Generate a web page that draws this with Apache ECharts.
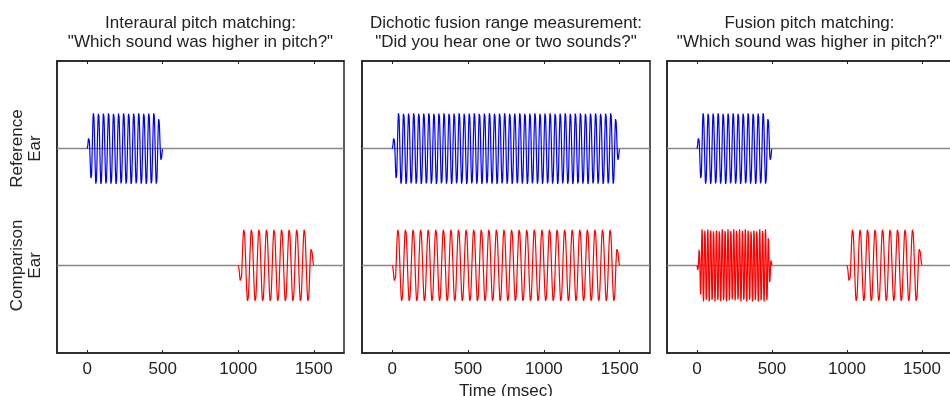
<!DOCTYPE html>
<html>
<head>
<meta charset="utf-8">
<script src="https://cdn.jsdelivr.net/npm/echarts@6/dist/echarts.min.js"></script>
<style>html,body{margin:0;padding:0;background:#fff}#c{width:950px;height:396px}</style>
</head>
<body>
<div id="c"></div>
<script>
// ---- data ----
const panelTitles = [
  'Interaural pitch matching:\n"Which sound was higher in pitch?"',
  'Dichotic fusion range measurement:\n"Did you hear one or two sounds?"',
  'Fusion pitch matching:\n"Which sound was higher in pitch?"'
];
const xTicks = [0, 500, 1000, 1500];
const xLabel = 'Time (msec)';
const earLevels = [0, 1];                 // comparison ear, reference ear
const earLabels = ['Comparison\nEar', 'Reference\nEar'];
// tones (one entry per drawn tone)
const tonePanel  = [0, 0, 1, 1, 2, 2, 2];
const toneEar    = [1, 0, 1, 0, 1, 0, 0]; // 1 = reference, 0 = comparison
const toneOnset  = [0, 1000, 0, 0, 0, 0, 1000];      // msec
const toneOffset = [500, 1500, 1500, 1500, 500, 500, 1500]; // msec
const toneCycles = [15, 10, 45, 30, 15, 26, 10];     // cycles drawn per tone
const toneAmp = 0.31;
const rampMs = 30;
const timeRange = [-200, 1700];

// ---- layout ----
const grids = [
  {left: 57, top: 61, width: 287, height: 292},
  {left: 362, top: 61, width: 288, height: 292},
  {left: 667, top: 61, width: 285, height: 292}
];
const FONT = '"Liberation Sans", Arial, sans-serif';
const TXT = '#222';
const FS = 17;

function toneData(i) {
  const on = toneOnset[i], off = toneOffset[i], dur = off - on;
  const f = toneCycles[i] / dur;
  const sign = toneEar[i] === 1 ? 1 : -1;
  const base = earLevels[toneEar[i]];
  const pts = [];
  const step = 0.5;
  for (let t = 0; t <= dur + 1e-9; t += step) {
    let env = 1;
    if (t < rampMs) env = t / rampMs;
    if (dur - t < rampMs) env = Math.min(env, (dur - t) / rampMs);
    pts.push([on + t, base + sign * toneAmp * env * Math.sin(2 * Math.PI * f * t)]);
  }
  return pts;
}

const option = {
  animation: false,
  backgroundColor: '#fff',
  title: panelTitles.map((t, i) => ({
    text: t,
    left: grids[i].left + grids[i].width / 2,
    top: 14,
    textAlign: 'center',
    padding: 0,
    textStyle: {fontFamily: FONT, fontSize: FS, fontWeight: 'normal', color: TXT, lineHeight: 19}
  })),
  grid: grids.map(g => Object.assign({
    show: true, borderColor: '#222', borderWidth: 1.5, backgroundColor: 'transparent',
    containLabel: false, outerBoundsMode: 'none'
  }, g)),
  xAxis: [],
  yAxis: [],
  series: []
};

for (let p = 0; p < 3; p++) {
  option.xAxis.push({
    type: 'value', gridIndex: p, min: timeRange[0], max: timeRange[1], position: 'bottom',
    axisLine: {show: true, onZero: false, lineStyle: {color: '#222', width: 1.5}},
    axisTick: {show: true, inside: true, length: 3, customValues: xTicks, lineStyle: {color: '#222'}},
    axisLabel: {customValues: xTicks, formatter: v => String(v), margin: 8, fontFamily: FONT, fontSize: FS, color: TXT},
    splitLine: {show: false},
    name: p === 1 ? xLabel : '',
    nameLocation: 'middle', nameGap: 25,
    nameTextStyle: {fontFamily: FONT, fontSize: FS, color: TXT}
  });
  option.xAxis.push({
    type: 'value', gridIndex: p, min: timeRange[0], max: timeRange[1], position: 'top',
    axisLine: {show: true, onZero: false, lineStyle: {color: '#222', width: 1.5}},
    axisTick: {show: true, inside: true, length: 3, customValues: xTicks, lineStyle: {color: '#222'}},
    axisLabel: {show: false},
    splitLine: {show: false}
  });
  option.yAxis.push({
    type: 'value', gridIndex: p, min: -0.75, max: 1.75, interval: 0.25,
    axisLine: {show: true, onZero: false, lineStyle: {color: '#222', width: 1.5}},
    axisTick: {show: false},
    splitLine: {show: false},
    axisLabel: p === 0 ? {
      customValues: earLevels,
      formatter: v => earLabels[earLevels.indexOf(v)],
      rotate: 90, margin: 13, fontFamily: FONT, fontSize: FS, color: TXT, lineHeight: 18
    } : {show: false}
  });
  // baselines
  earLevels.forEach(v => {
    option.series.push({
      type: 'line', xAxisIndex: p * 2, yAxisIndex: p, silent: true,
      data: [[timeRange[0], v], [timeRange[1], v]],
      showSymbol: false, symbol: 'none',
      lineStyle: {color: '#888', width: 1.5}, z: 2
    });
  });
}

for (let i = 0; i < tonePanel.length; i++) {
  const p = tonePanel[i];
  option.series.push({
    type: 'line', xAxisIndex: p * 2, yAxisIndex: p,
    data: toneData(i), showSymbol: false, symbol: 'none',
    lineStyle: {color: toneEar[i] === 1 ? '#0000ff' : '#ff0000', width: 1.2},
    z: 3
  });
}

const chart = echarts.init(document.getElementById('c'), null, {renderer: 'canvas'});
chart.setOption(option);
</script>
</body>
</html>
